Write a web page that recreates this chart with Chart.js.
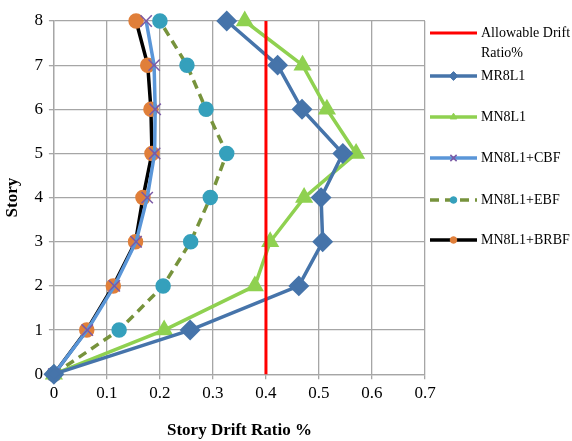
<!DOCTYPE html>
<html>
<head>
<meta charset="utf-8">
<script src="https://cdn.jsdelivr.net/npm/chart.js@4"></script>
<style>
  html, body { margin: 0; padding: 0; background: #fff; }
  #wrap { width: 572px; height: 441px; }
</style>
</head>
<body>
<div id="wrap"><canvas id="chart" width="572" height="441"></canvas></div>
<script>
// story levels (y) and drift ratio % per series (x)
const stories = [0, 1, 2, 3, 4, 5, 6, 7, 8];
const allowableDrift = 0.4;
const mr8l1 = [0, 0.257, 0.462, 0.507, 0.504, 0.545, 0.468, 0.422, 0.326];
const mn8l1 = [0, 0.208, 0.379, 0.408, 0.472, 0.570, 0.515, 0.469, 0.360];
const mn8l1Cbf = [0, 0.063, 0.114, 0.155, 0.176, 0.190, 0.191, 0.189, 0.174];
const mn8l1Ebf = [0, 0.123, 0.206, 0.258, 0.295, 0.326, 0.287, 0.251, 0.200];
const mn8l1Brbf = [0, 0.062, 0.112, 0.154, 0.168, 0.185, 0.183, 0.177, 0.155];

const serif = "'Liberation Serif', 'Times New Roman', serif";

const toPoints = (xs) => xs.map((x, i) => ({ x: x, y: stories[i] }));

const datasets = [
  {
    label: "Allowable Drift Ratio%",
    data: [{ x: allowableDrift, y: stories[0] }, { x: allowableDrift, y: stories[stories.length - 1] }],
    borderColor: "#FF0000",
    borderWidth: 3,
    pointRadius: 0,
  },
  {
    label: "MR8L1",
    data: toPoints(mr8l1),
    borderColor: "#4674AA",
    backgroundColor: "#4674AA",
    borderWidth: 3.5,
    pointStyle: "rectRot",
    pointRadius: 8,
  },
  {
    label: "MN8L1",
    data: toPoints(mn8l1),
    borderColor: "#8FD150",
    backgroundColor: "#8FD150",
    borderWidth: 3.5,
    pointStyle: "triangle",
    pointRadius: 7,
  },
  {
    label: "MN8L1+CBF",
    data: toPoints(mn8l1Cbf),
    borderColor: "#5A96D8",
    backgroundColor: "#7B5AA6",
    pointBorderColor: "#7B5AA6",
    pointBorderWidth: 1.5,
    borderWidth: 3.5,
    pointStyle: "cross",
    pointRotation: 45,
    pointRadius: 8,
  },
  {
    label: "MN8L1+EBF",
    data: toPoints(mn8l1Ebf),
    borderColor: "#77933C",
    backgroundColor: "#35A0BC",
    pointBorderColor: "#35A0BC",
    borderWidth: 3.5,
    borderDash: [9, 6],
    pointStyle: "circle",
    pointRadius: 6,
  },
  {
    label: "MN8L1+BRBF",
    data: toPoints(mn8l1Brbf),
    borderColor: "#000000",
    backgroundColor: "#E07F3A",
    pointBorderColor: "#E07F3A",
    borderWidth: 3.5,
    pointStyle: "circle",
    pointRadius: 6,
  },
];

// legend drawn by hand so each entry shows line + marker like the original
const sideLegend = {
  id: "sideLegend",
  afterDraw(chart) {
    const ctx = chart.ctx;
    const x0 = 430, x1 = 477, tx = 481;
    const rows = [33, 76, 117, 158, 200, 240];
    ctx.save();
    ctx.font = "14px " + serif;
    ctx.textBaseline = "middle";
    chart.data.datasets.forEach((ds, i) => {
      const y = rows[i];
      ctx.strokeStyle = ds.borderColor;
      ctx.lineWidth = ds.borderWidth;
      ctx.setLineDash(ds.borderDash || []);
      ctx.beginPath();
      ctx.moveTo(x0, y);
      ctx.lineTo(x1, y);
      ctx.stroke();
      ctx.setLineDash([]);
      if (ds.pointRadius) {
        ctx.fillStyle = ds.backgroundColor;
        ctx.strokeStyle = ds.pointBorderColor || ds.backgroundColor;
        ctx.lineWidth = ds.pointBorderWidth || 1;
        Chart.helpers.drawPoint(ctx, {
          pointStyle: ds.pointStyle,
          rotation: ds.pointRotation || 0,
          radius: ds.pointRadius * 0.55,
          borderWidth: ds.pointBorderWidth || 1,
        }, (x0 + x1) / 2, y);
      }
      ctx.fillStyle = "#000";
      if (i === 0) {
        ctx.fillText("Allowable Drift", tx, y);
        ctx.fillText("Ratio%", tx, y + 20);
      } else {
        ctx.fillText(ds.label, tx, y);
      }
    });
    ctx.restore();
  },
};

const ctx = document.getElementById("chart").getContext("2d");
new Chart(ctx, {
  type: "scatter",
  data: { datasets: datasets.map((d) => Object.assign({ showLine: true, clip: false, tension: 0 }, d)) },
  options: {
    responsive: false,
    animation: false,
    layout: { padding: { top: 21, right: 147, left: 2, bottom: 0 } },
    plugins: {
      legend: { display: false },
      tooltip: { enabled: false },
    },
    scales: {
      x: {
        type: "linear",
        min: 0,
        max: 0.7,
        ticks: { stepSize: 0.1, color: "#000", font: { family: serif, size: 17 }, padding: 4 },
        grid: { color: "#A6A6A6", tickLength: 5, lineWidth: 1.3 },
        border: { color: "#A6A6A6", width: 1.3 },
        title: {
          display: true,
          text: "Story Drift Ratio %",
          color: "#000",
          font: { family: serif, size: 17, weight: "bold" },
          padding: { top: 13, bottom: 0 },
        },
      },
      y: {
        type: "linear",
        min: 0,
        max: 8,
        ticks: { stepSize: 1, color: "#000", font: { family: serif, size: 17 }, padding: 6 },
        grid: { color: "#A6A6A6", tickLength: 5, lineWidth: 1.3 },
        border: { color: "#A6A6A6", width: 1.3 },
        title: {
          display: true,
          text: "Story",
          color: "#000",
          font: { family: serif, size: 17, weight: "bold" },
          padding: { top: 0, bottom: 6 },
        },
      },
    },
  },
  plugins: [sideLegend],
});
</script>
</body>
</html>
